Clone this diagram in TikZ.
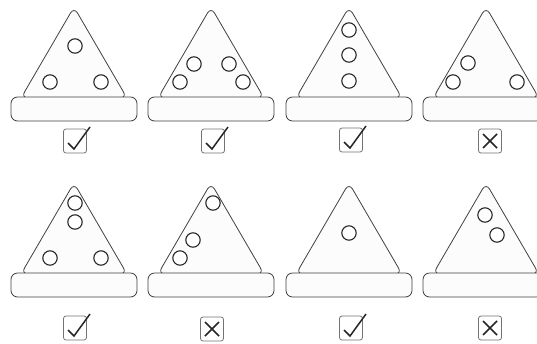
\documentclass[tikz,border=0pt]{standalone}
\tikzset{
  outl/.style={draw=black!75, line width=0.8pt, fill=black!1},
  dot/.style={draw=black!85, line width=1.1pt, fill=white},
  boxst/.style={draw=black!55, line width=0.8pt, rounded corners=2.5pt, fill=white},
  markst/.style={draw=black!85, line width=1.5pt},
}
% #1 = cx, #2 = apex y
\newcommand{\pizzaslice}[3]{%
  \begin{scope}[shift={(#1,#2)}]
    \draw[outl, rounded corners=7pt] (-53,91) -- (0,0) -- (53,91) -- cycle;
    \draw[outl, rounded corners=6.5pt] (-63,90) rectangle (63,114);
    \foreach \px/\py in {#3} { \draw[dot] (\px,\py) circle (7.2); }
  \end{scope}}
\newcommand{\okbox}[2]{%
  \begin{scope}[shift={(#1,#2)}]
    \draw[boxst] (-11.5,-12) rectangle (11.5,12);
    \draw[markst, line join=miter] (-7,2) -- (-1,8) -- (15,-14);
  \end{scope}}
\newcommand{\nobox}[2]{%
  \begin{scope}[shift={(#1,#2)}]
    \draw[boxst] (-11.5,-12) rectangle (11.5,12);
    \draw[markst] (-7,-7) -- (7,7) (-7,7) -- (7,-7);
  \end{scope}}
\begin{document}
\begin{tikzpicture}[x=1pt,y=-1pt]
  \useasboundingbox (0,0) rectangle (537,343);
  \clip (0,0) rectangle (537,343);
  % row 1
  \pizzaslice{74}{7}{1/39, -24/75, 27/75}
  \pizzaslice{211}{7}{-17/57, -31/75, 18/57, 32/75}
  \pizzaslice{349}{7}{0/23, 0/48, 0/74}
  \pizzaslice{486}{7}{-18/56, -33/75, 31/75}
  \okbox{75}{141}
  \okbox{213}{141}
  \okbox{351}{140}
  \nobox{490}{141}
  % row 2
  \pizzaslice{74}{183}{1/20, 1/39, -24/75, 27/75}
  \pizzaslice{211}{183}{2/20, -18/57, -31/75}
  \pizzaslice{349}{183}{0/50}
  \pizzaslice{486}{183}{-1/32, 11/52}
  \okbox{75}{328}
  \nobox{212}{329}
  \okbox{351}{328}
  \nobox{490}{328}
\end{tikzpicture}
\end{document}
